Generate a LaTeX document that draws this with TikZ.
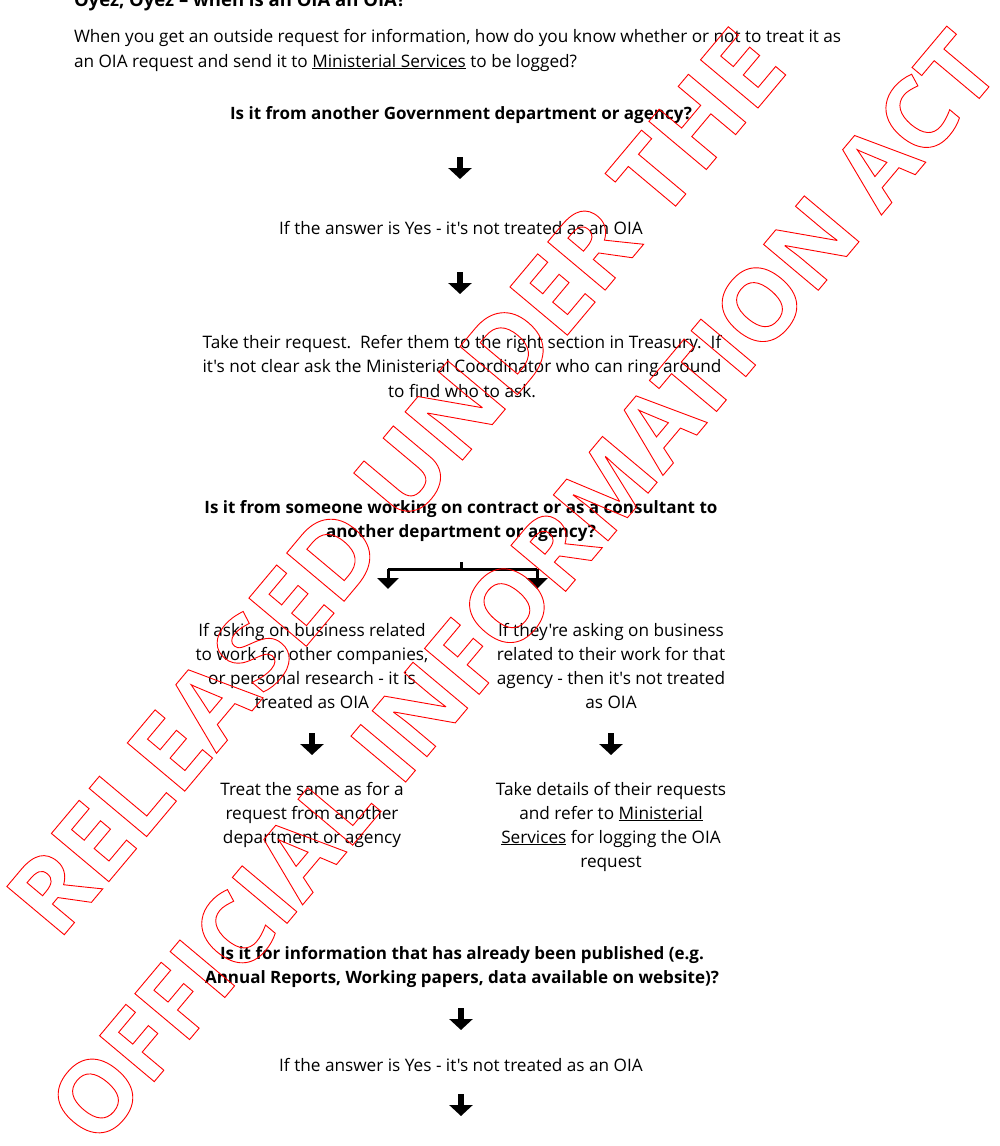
\documentclass[tikz,border=0pt]{standalone}
\usepackage{fontspec}
\setmainfont{Open Sans}[Ligatures=TeXOff]
\newfontfamily\wmfont{Open Sans}
\usetikzlibrary{arrows.meta}
\newcommand\blkc[1]{\begin{tabular}[t]{@{}c@{}}#1\end{tabular}}
\newcommand\blkl[1]{\begin{tabular}[t]{@{}l@{}}#1\end{tabular}}
\newcommand\wmtext[1]{\special{pdf:literal direct 1 Tr 0.9 w}#1\special{pdf:literal direct 0 Tr}}
\begin{document}
\begin{tikzpicture}[x=1pt,y=-1pt,
  every node/.style={inner sep=0pt, outer sep=0pt},
  body/.style={font=\fontsize{17.2}{24}\selectfont, anchor=base},
  bodyb/.style={font=\fontsize{17}{24}\selectfont\bfseries, anchor=base},
  titlef/.style={font=\fontsize{18.5}{24}\selectfont\bfseries, anchor=base west},
  bigarrow/.style={draw=black, line width=6.5pt, -{Triangle[width=23pt,length=11pt]}},
  brline/.style={draw=black, line width=3pt},
  brarrow/.style={draw=black, line width=3pt, -{Triangle[width=21pt,length=11pt]}},
  wm/.style={text=red, anchor=base, rotate=50}
]
\useasboundingbox[fill=white] (0,0) rectangle (1000,1146);

% title and intro
\node[titlef] (title) at (74,6) {Oyez, Oyez – when is an OIA an OIA?};
\node[body, anchor=base west, font=\fontsize{17.2}{25}\selectfont] (intro) at (74,42)
  {\blkl{When you get an outside request for information, how do you know whether or not to treat it as\\
   an OIA request and send it to \underline{Ministerial Services} to be logged?}};

% section 1
\node[bodyb] (q1) at (461,119) {Is it from another Government department or agency?};
\coordinate (a1s) at (460,157); \coordinate (a1e) at (460,179);
\node[body] (ans1) at (461,234) {If the answer is Yes - it's not treated as an OIA};
\coordinate (a2s) at (460,272); \coordinate (a2e) at (460,294);
\node[body, font=\fontsize{17.2}{24.5}\selectfont] (take1) at (462,348)
  {\blkc{Take their request.\ \ Refer them to the right section in Treasury.\ \ If\\
   it's not clear ask the Ministerial Coordinator who can ring around\\ to find who to ask.}};

% section 2
\node[bodyb] (q2) at (461,513)
  {\blkc{Is it from someone working on contract or as a consultant to\\ another department or agency?}};
\coordinate (br0) at (461,562);
\coordinate (brm) at (461,569);
\coordinate (brl) at (388,569);
\coordinate (brr) at (537,569);
\coordinate (brle) at (388,589);
\coordinate (brre) at (537,589);

\node[body] (left1) at (312,636)
  {\blkc{If asking on business related\\ to work for other companies,\\ or personal research - it is\\ treated as OIA}};
\node[body] (right1) at (611,636)
  {\blkc{If they're asking on business\\ related to their work for that\\ agency - then it's not treated\\ as OIA}};
\coordinate (a3s) at (312,733); \coordinate (a3e) at (312,755);
\coordinate (a4s) at (611,733); \coordinate (a4e) at (611,755);
\node[body] (left2) at (312,795)
  {\blkc{Treat the same as for a\\ request from another\\ department or agency}};
\node[body] (right2) at (611,795)
  {\blkc{Take details of their requests\\ and refer to \underline{Ministerial}\\ \underline{Services} for logging the OIA\\ request}};

% section 3
\node[bodyb] (q3) at (462,959)
  {\blkc{Is it for information that has already been published (e.g.\\ Annual Reports, Working papers, data available on website)?}};
\coordinate (a5s) at (461,1008); \coordinate (a5e) at (461,1030);
\node[body] (ans3) at (461,1071) {If the answer is Yes - it's not treated as an OIA};
\coordinate (a6s) at (461,1094); \coordinate (a6e) at (461,1116);

% connectors
\draw[bigarrow] (a1s) -- (a1e);
\draw[bigarrow] (a2s) -- (a2e);
\draw[brline] (br0) -- (brm);
\draw[brline] (brl) -- (brr);
\draw[brarrow] (brl) -- (brle);
\draw[brarrow] (brr) -- (brre);
\draw[bigarrow] (a3s) -- (a3e);
\draw[bigarrow] (a4s) -- (a4e);
\draw[bigarrow] (a5s) -- (a5e);
\draw[bigarrow] (a6s) -- (a6e);

% watermark
\node[wm, font=\wmfont\bfseries\fontsize{105}{115}\selectfont] (wm1) at (424,506) {\wmtext{RELEASED UNDER THE}};
\node[wm, font=\wmfont\bfseries\fontsize{100}{110}\selectfont] (wm2) at (550,610) {\wmtext{OFFICIAL INFORMATION ACT}};
\end{tikzpicture}
\end{document}
